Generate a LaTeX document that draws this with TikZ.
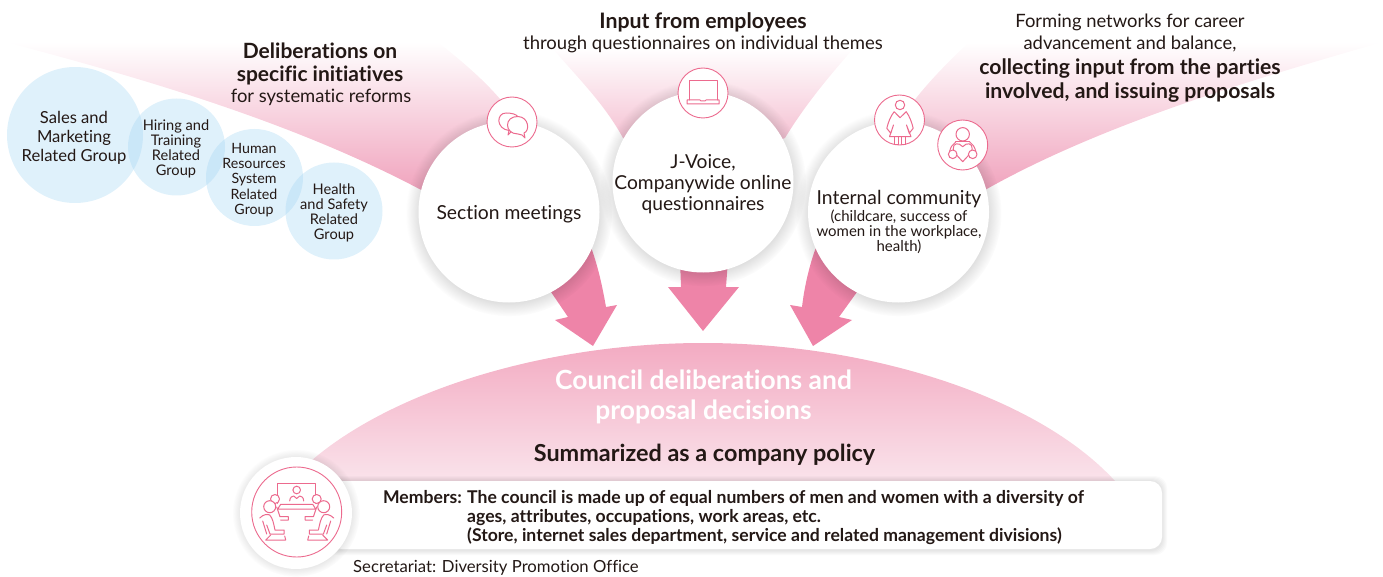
\documentclass[tikz,border=0pt]{standalone}
\usepackage{fontspec}
\setmainfont[Ligatures=NoCommon]{Lato}
\usepackage{xcolor}
\usepackage{tikz}
\usetikzlibrary{positioning,calc,shadows,fadings}
\definecolor{inkdark}{HTML}{231815}
\definecolor{linepink}{HTML}{EC6A8E}
\definecolor{arrowpink}{HTML}{EE84A8}
\definecolor{wedgepink}{HTML}{F0A3BD}
\definecolor{domepink}{HTML}{F3ABC2}
\definecolor{domepale}{HTML}{FAE3EB}
\definecolor{groupblue}{HTML}{9FD3F2}
\newcommand{\fsz}[2]{\fontsize{#1}{#2}\selectfont}
\pgfdeclareradialshading{softcircleshade}{\pgfpointorigin}{color(0bp)=(pgftransparent!0); color(19bp)=(pgftransparent!0); color(25bp)=(pgftransparent!100); color(50bp)=(pgftransparent!100)}
\pgfdeclarefading{softcircle}{\pgfuseshading{softcircleshade}}
\tikzset{
	txt/.style={text=inkdark,align=center,inner sep=0pt},
	softshadow/.style={general shadow={shadow xshift=0pt,shadow yshift=-1pt,shadow scale=1.14,fill=black,opacity=0.22,path fading=softcircle}},
	groupnode/.style={circle,inner sep=0pt,fill=groupblue,fill opacity=0.33},
	forumnode/.style={circle,fill=white,minimum size=181pt,inner sep=0pt,softshadow},
	iconnode/.style={circle,draw=linepink,fill=white,line width=0.9pt,minimum size=50pt,inner sep=0pt},
	icon/.style={draw=linepink,line width=1pt,line join=round,line cap=round},
	blockarrow/.style={fill=arrowpink},
}
\begin{document}
\begin{tikzpicture}[x=1pt,y=-1pt]
	\useasboundingbox (0,0) rectangle (1383,577);

	\shade[top color=white,bottom color=wedgepink] (5,42) .. controls (150,80) and (300,125) .. (425,192) -- (505,192) -- (505,105) .. controls (485,80) and (460,60) .. (438,42) -- cycle;
	\shade[top color=white,bottom color=wedgepink!90] (552,48) .. controls (580,80) and (605,105) .. (623,138) -- (703,170) -- (785,138) .. controls (805,105) and (830,75) .. (854,48) -- cycle;
	\shade[top color=white,bottom color=wedgepink] (900,120) .. controls (920,90) and (945,65) .. (967,44) -- (1383,42) .. controls (1250,80) and (1100,125) .. (985,190) -- (900,190) -- cycle;

	\shade[top color=domepink,bottom color=domepale] (290,481) .. controls (370,395) and (540,343) .. (703,343) .. controls (866,343) and (1036,395) .. (1115,481) -- cycle;

	\fill[blockarrow] (580,230) -- (592,250) .. controls (599,270) and (603,290) .. (606,307) -- (617,305) -- (593,346) -- (555,320) -- (568,317) -- (551,292) -- (530,270) -- cycle;
	\fill[blockarrow] (680,260) -- (681,287) -- (668,287) -- (703,331) -- (739,287) -- (726,287) -- (728,260) -- cycle;
	\fill[blockarrow] (826,230) -- (815,250) .. controls (808,270) and (804,290) .. (802,307) -- (790,305) -- (813,346) -- (852,320) -- (839,317) -- (857,292) -- (875,270) -- cycle;

	\node[groupnode,minimum size=136pt] (sales) at (75,135) {};
	\node[groupnode,minimum size=97pt] (hiring) at (176.5,147) {};
	\node[groupnode,minimum size=97pt] (hr) at (254.5,177.5) {};
	\node[groupnode,minimum size=97pt] (health) at (334,211) {};
	\node[txt,font=\fsz{16.6}{19},shift={(-1,3)}] (saleslabel) at (sales.center) {Sales and\\Marketing\\Related Group};
	\node[txt,font=\fsz{14.6}{15.2},shift={(-0.5,2)}] (hiringlabel) at (hiring.center) {Hiring and\\Training\\Related\\Group};
	\node[txt,font=\fsz{14.2}{15.2},shift={(-0.5,2.5)}] (hrlabel) at (hr.center) {Human\\Resources\\System\\Related\\Group};
	\node[txt,font=\fsz{14.6}{15.2},shift={(0,2)}] (healthlabel) at (health.center) {Health\\and Safety\\Related\\Group};

	\node[forumnode] (section) at (509,212) {};
	\node[forumnode] (jvoice) at (703,182) {};
	\node[forumnode] (community) at (898.5,212) {};
	\node[txt,font=\fsz{19.3}{21},shift={(0,2)}] (sectionlabel) at (section.center) {Section meetings};
	\node[txt,font=\fsz{19.2}{21},shift={(0,2)}] (jvoicelabel) at (jvoice.center) {J-Voice,\\Companywide online\\questionnaires};
	\node[txt,font=\fsz{19.3}{21}] (communityname) at (899,199) {Internal community};
	\node[txt,font=\fsz{15}{15},anchor=north] (communitynote) at (899,210) {(childcare, success of\\women in the workplace,\\health)};

	\node[iconnode] (chat) at (512,122) {};
	\node[iconnode] (laptop) at (703,93) {};
	\node[iconnode] (woman) at (899.5,120) {};
	\node[iconnode] (heart) at (962.7,145) {};

	\begin{scope}[shift={(chat.center)},icon]
		\draw (-3,8.5) -- (-4,13) -- (0,9) .. controls (6,9) and (3,4) .. (6,0) .. controls (8,-3) and (7,-9) .. (-6,-9) .. controls (-16,-9) and (-16,7) .. (-3,8.5);
		\draw[fill=white] (10,13) -- (13,16) -- (12,11) .. controls (18,9) and (17,-5) .. (6,-5.5) .. controls (-8,-6) and (-8,12) .. (6,12) -- (10,13);
	\end{scope}
	\begin{scope}[shift={(laptop.center)},icon]
		\draw (-14,7) -- (-14,-12) -- (14,-12) -- (14,7);
		\draw (-16,7) -- (-3,7) -- (-2,8) -- (2,8) -- (3,7) -- (16,7) -- (16,11) -- (-16,11) -- cycle;
	\end{scope}
	\begin{scope}[shift={(woman.center)},icon]
		\draw (0.5,-15) circle (4.7);
		\draw (-5.3,-8.3) -- (0.5,-2.3) -- (6.7,-8.3) .. controls (10,-4) and (12.5,3) .. (13.7,8.3) -- (9.7,13.3) -- (7,5) -- (11.5,16.7) -- (-10,16.7) -- (-6,5) -- (-8.7,13.3) -- (-12.7,8.3) .. controls (-11.5,3) and (-9,-4) .. (-5.3,-8.3);
		\draw (-5,16.7) -- (-5,25) -- (-1,25) -- (-1,16.7) (2,16.7) -- (2,25) -- (6,25) -- (6,16.7);
	\end{scope}
	\begin{scope}[shift={(heart.center)},icon]
		\draw (0,-10.7) circle (6.7);
		\draw (-7,-3) .. controls (-10,-1) and (-12,2) .. (-13,6) (7,-3) .. controls (10,-1) and (12,2) .. (13,6);
		\draw (-7,-3) -- (7,-3);
		\draw[fill=white] (0,1.7) .. controls (-4,-3) and (-10,-2) .. (-9.5,4) .. controls (-9,8) and (-4,12) .. (0,16.7) .. controls (4,12) and (9,8) .. (9.5,4) .. controls (10,-2) and (4,-3) .. (0,1.7);
		\draw[fill=white] (-10,9.3) circle (4.3) (10,9.3) circle (4.3);
	\end{scope}

	\foreach \grow in {1,...,5}
		\fill[black,opacity=0.02,rounded corners=12pt] (330-\grow,481-\grow) rectangle (1162+\grow,550+\grow);
	\node[rounded corners=12pt,fill=white,minimum width=832pt,minimum height=68pt,inner sep=0pt] (membersbox) at (746,515) {};
	\node[circle,fill=white,minimum size=112pt,inner sep=0pt,
		general shadow={shadow xshift=0pt,shadow yshift=0pt,shadow scale=1.14,fill=black,opacity=0.16,path fading=softcircle}] (councilbadge) at (296,513) {};
	\node[circle,draw=linepink,line width=0.9pt,minimum size=90pt,inner sep=0pt] (councilring) at (296.7,512) {};

	\begin{scope}[shift={(councilring.center)},icon]
		\draw (-19.3,-8.7) -- (-19.3,-28.7) -- (19,-28.7) -- (19,-8.7);
		\draw (0,-22) circle (3.8);
		\draw (-7,-11) .. controls (-7,-15) and (-4,-16) .. (-3,-16) -- (0,-13.5) -- (3,-16) .. controls (4,-16) and (7,-15) .. (7,-11);
		\draw (-16,-7.7) -- (16,-7.7) -- (19,-3) -- (-19,-3) -- cycle;
		\draw[fill=white] (-21.7,-13) circle (4.5) (20,-13) circle (4.5);
		\draw (-20,-5) -- (-16.7,4.7) -- (-8.3,4.7) -- (-8.3,8) -- (-16,8) (20,-5) -- (16.7,4.7) -- (8.3,4.7) -- (8.3,8) -- (16,8);
		\draw[fill=white] (-27,-5.3) circle (6) (27,-5.3) circle (6);
		\draw (-37,6) .. controls (-33,2) and (-29,2) .. (-27,3) .. controls (-24,6) and (-23,12) .. (-21.7,18) -- (-12.7,18) -- (-12.7,22) -- (-26.7,22) -- (-30,13);
		\draw (37,6) .. controls (33,2) and (29,2) .. (27,3) .. controls (24,6) and (23,12) .. (21.7,18) -- (12.7,18) -- (12.7,22) -- (26.7,22) -- (30,13);
		\draw (-26,23) -- (-31,28) -- (-11,28) -- (-12,24) (26,23) -- (31,28) -- (11,28) -- (12,24);
		\draw (-34,9) -- (-30,22) (34,9) -- (30,22);
	\end{scope}

	\node[txt,font=\fsz{21}{22.5}\bfseries] (delibtitle) at (320,64) {Deliberations on\\specific initiatives};
	\node[txt,font=\fsz{18.4}{20}] (delibnote) at (321,97) {for systematic reforms};
	\node[txt,font=\fsz{21.3}{22}\bfseries] (inputtitle) at (703,22) {Input from employees};
	\node[txt,font=\fsz{18.5}{20}] (inputnote) at (703,44) {through questionnaires on individual themes};
	\node[txt,font=\fsz{18.4}{22}] (formingnote) at (1130,33) {Forming networks for career\\advancement and balance,};
	\node[txt,font=\fsz{21.2}{24}\bfseries] (formingtitle) at (1130,81) {collecting input from the parties\\involved, and issuing proposals};

	\node[inner sep=0pt,align=center,text=white,font=\fsz{26.4}{30}\bfseries] (decision) at (703.5,397) {Council deliberations and\\proposal decisions};
	\node[txt,font=\fsz{23.4}{26}\bfseries] (policy) at (704.5,455) {Summarized as a company policy};
	\node[txt,anchor=north east,font=\fsz{17.6}{19}\bfseries] (memberslabel) at (462,490) {Members:};
	\node[txt,anchor=north west,align=left,font=\fsz{17.6}{19}\bfseries] (memberstext) at (467,490) {The council is made up of equal numbers of men and women with a diversity of\\ages, attributes, occupations, work areas, etc.\\(Store, internet sales department, service and related management divisions)};
	\node[txt,anchor=west,font=\fsz{16.7}{19}] (secretariat) at (353,568) {Secretariat: Diversity Promotion Office};
\end{tikzpicture}
\end{document}
